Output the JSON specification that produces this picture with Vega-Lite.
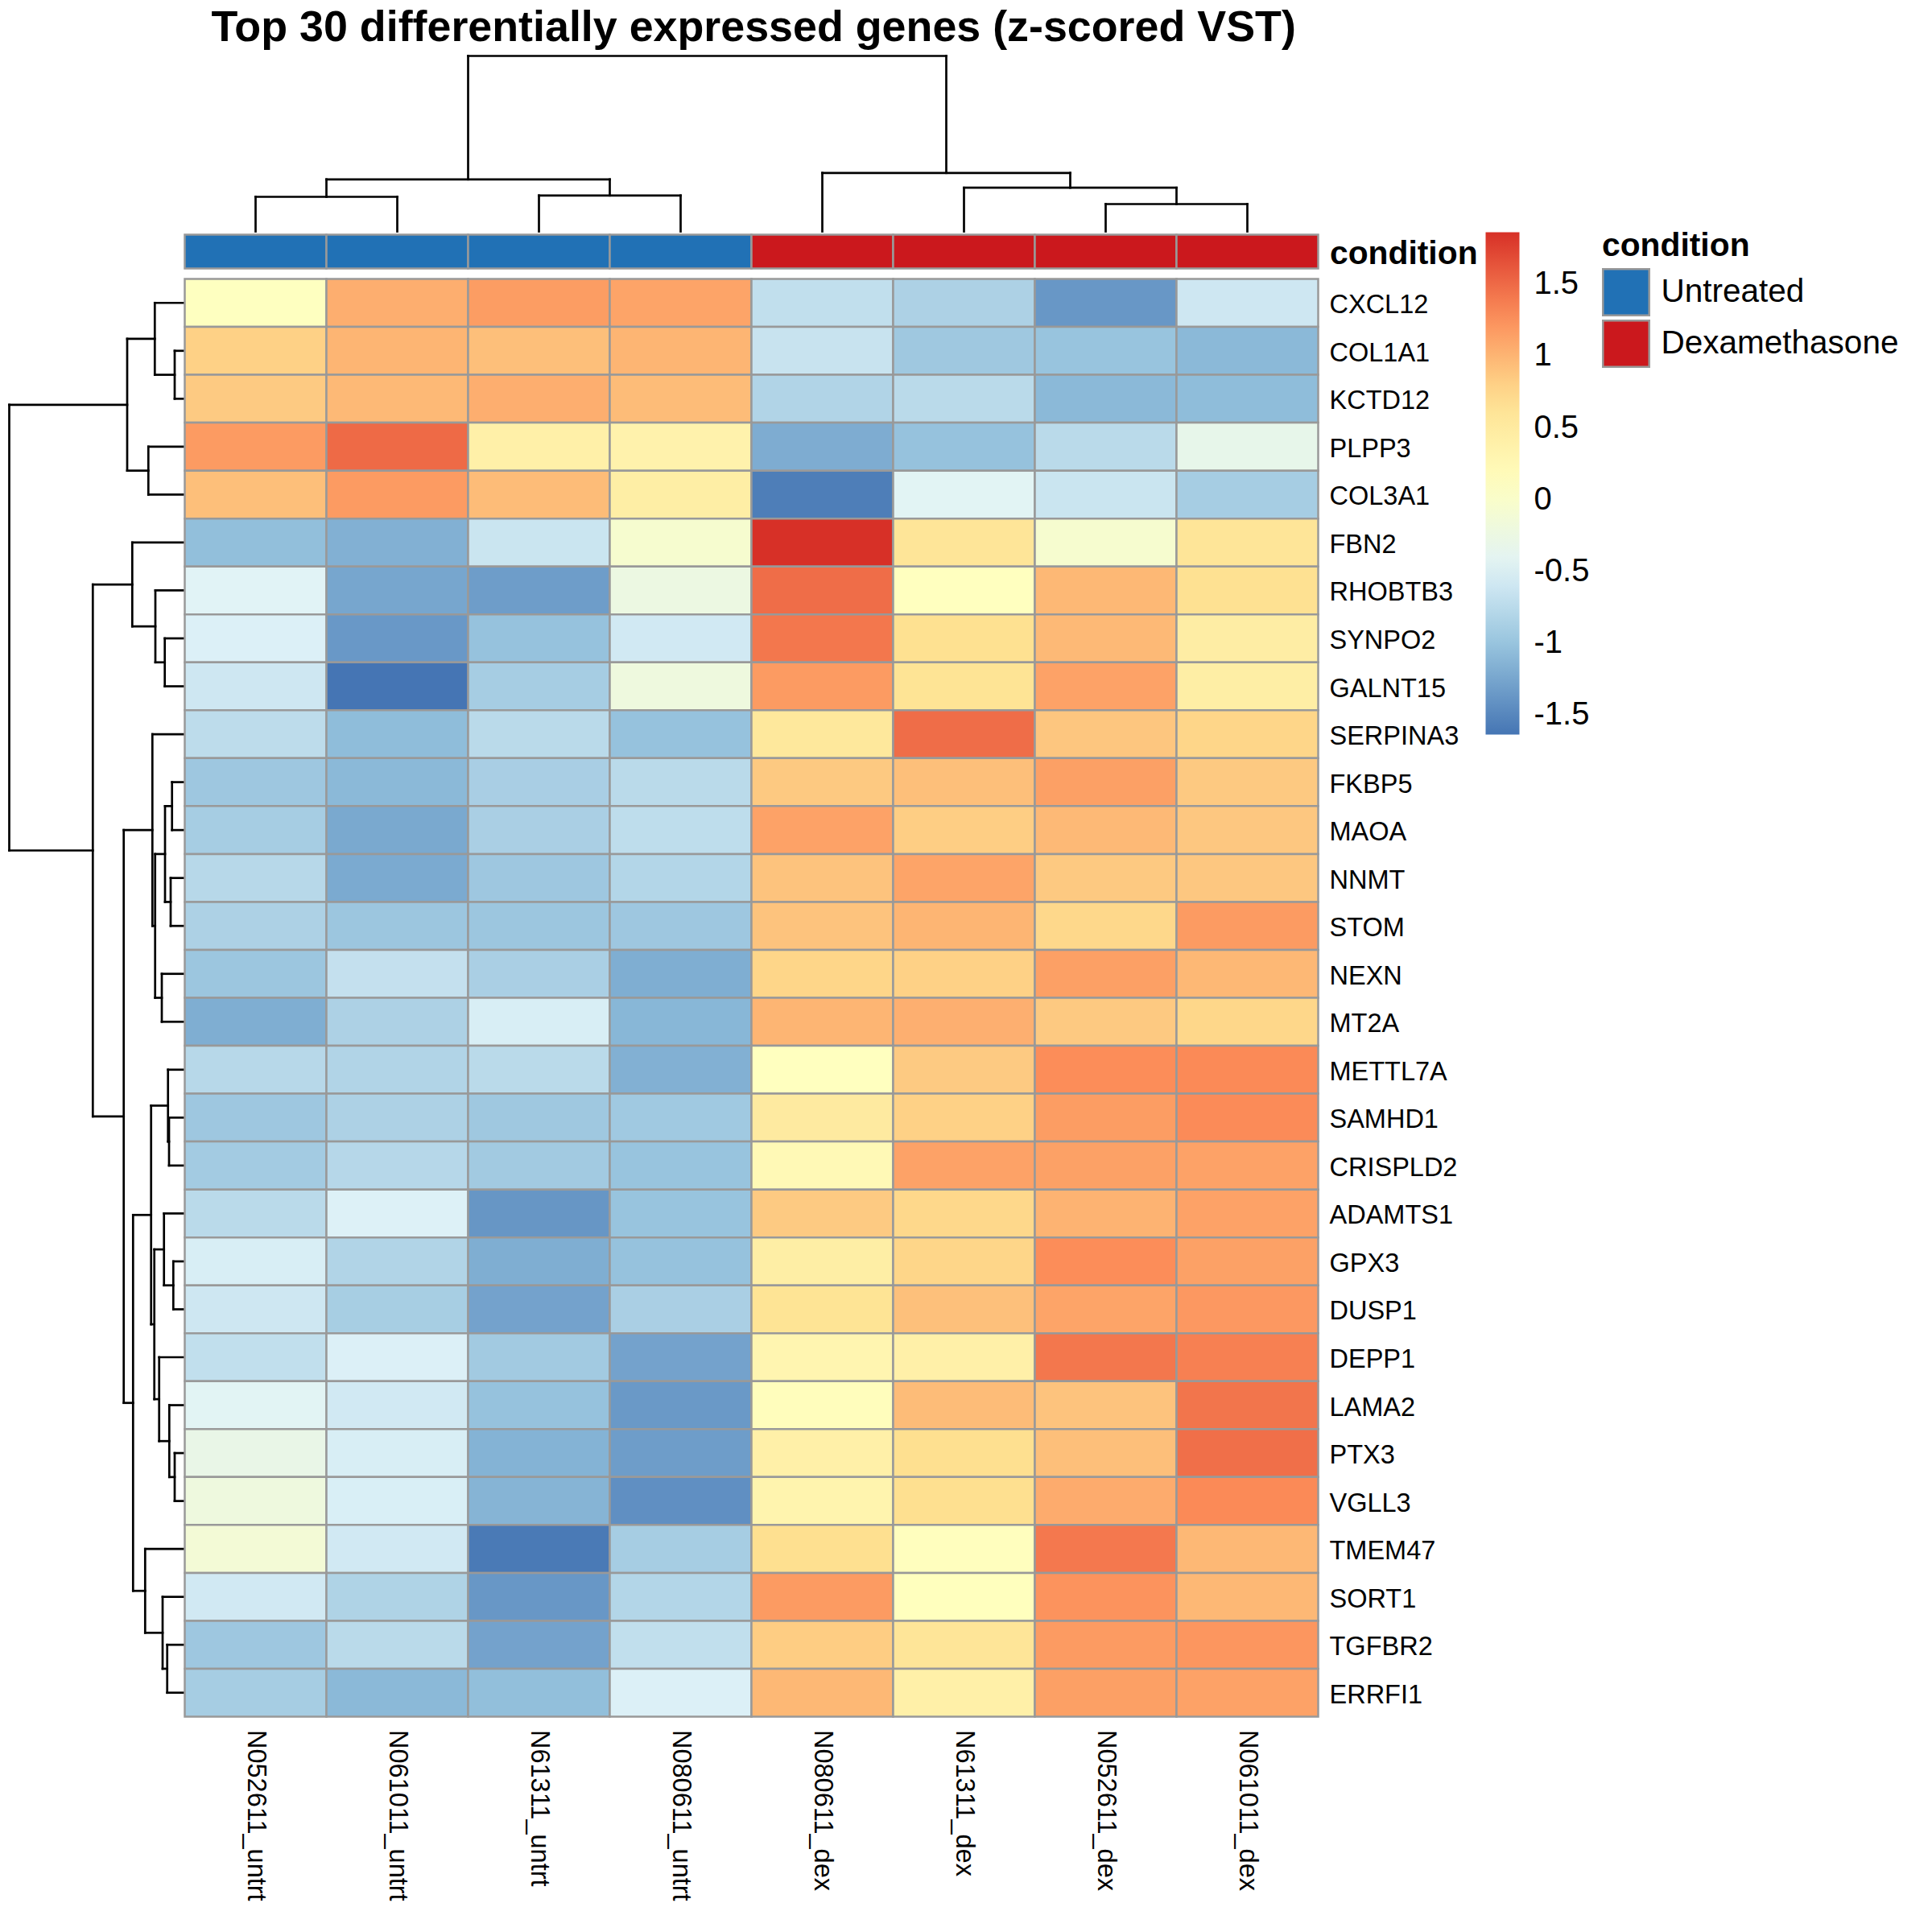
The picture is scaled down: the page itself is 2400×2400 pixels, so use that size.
{
"$schema": "https://vega.github.io/schema/vega-lite/v6.json",
"background": "white",
"autosize": {"type": "pad"},
"padding": {"left": 9.5, "top": 7.5, "right": 10, "bottom": 10},
"title": {"text": "Top 30 differentially expressed genes (z-scored VST)", "fontSize": 53.8, "fontWeight": "bold", "anchor": "start", "frame": "group", "dx": 251, "offset": 6, "color": "black"},
"config": {"font": "Liberation Sans", "view": {"stroke": null}},
"columns": 2,
"bounds": "flush",
"spacing": {"row": 4, "column": 0},
"datasets": {
"cells": [
{"gene":"CXCL12","sample":"N052611_untrt","z":0.10},{"gene":"CXCL12","sample":"N061011_untrt","z":1.05},{"gene":"CXCL12","sample":"N61311_untrt","z":1.17},{"gene":"CXCL12","sample":"N080611_untrt","z":1.12},{"gene":"CXCL12","sample":"N080611_dex","z":-0.70},{"gene":"CXCL12","sample":"N61311_dex","z":-0.85},{"gene":"CXCL12","sample":"N052611_dex","z":-1.37},{"gene":"CXCL12","sample":"N061011_dex","z":-0.60},
{"gene":"COL1A1","sample":"N052611_untrt","z":0.80},{"gene":"COL1A1","sample":"N061011_untrt","z":1.00},{"gene":"COL1A1","sample":"N61311_untrt","z":0.93},{"gene":"COL1A1","sample":"N080611_untrt","z":1.00},{"gene":"COL1A1","sample":"N080611_dex","z":-0.65},{"gene":"COL1A1","sample":"N61311_dex","z":-0.95},{"gene":"COL1A1","sample":"N052611_dex","z":-1.00},{"gene":"COL1A1","sample":"N061011_dex","z":-1.10},
{"gene":"KCTD12","sample":"N052611_untrt","z":0.85},{"gene":"KCTD12","sample":"N061011_untrt","z":0.97},{"gene":"KCTD12","sample":"N61311_untrt","z":1.05},{"gene":"KCTD12","sample":"N080611_untrt","z":0.95},{"gene":"KCTD12","sample":"N080611_dex","z":-0.82},{"gene":"KCTD12","sample":"N61311_dex","z":-0.75},{"gene":"KCTD12","sample":"N052611_dex","z":-1.10},{"gene":"KCTD12","sample":"N061011_dex","z":-1.07},
{"gene":"PLPP3","sample":"N052611_untrt","z":1.18},{"gene":"PLPP3","sample":"N061011_untrt","z":1.50},{"gene":"PLPP3","sample":"N61311_untrt","z":0.40},{"gene":"PLPP3","sample":"N080611_untrt","z":0.35},{"gene":"PLPP3","sample":"N080611_dex","z":-1.20},{"gene":"PLPP3","sample":"N61311_dex","z":-1.02},{"gene":"PLPP3","sample":"N052611_dex","z":-0.75},{"gene":"PLPP3","sample":"N061011_dex","z":-0.33},
{"gene":"COL3A1","sample":"N052611_untrt","z":0.93},{"gene":"COL3A1","sample":"N061011_untrt","z":1.18},{"gene":"COL3A1","sample":"N61311_untrt","z":0.95},{"gene":"COL3A1","sample":"N080611_untrt","z":0.43},{"gene":"COL3A1","sample":"N080611_dex","z":-1.57},{"gene":"COL3A1","sample":"N61311_dex","z":-0.43},{"gene":"COL3A1","sample":"N052611_dex","z":-0.63},{"gene":"COL3A1","sample":"N061011_dex","z":-0.90},
{"gene":"FBN2","sample":"N052611_untrt","z":-1.05},{"gene":"FBN2","sample":"N061011_untrt","z":-1.17},{"gene":"FBN2","sample":"N61311_untrt","z":-0.63},{"gene":"FBN2","sample":"N080611_untrt","z":-0.05},{"gene":"FBN2","sample":"N080611_dex","z":1.863},{"gene":"FBN2","sample":"N61311_dex","z":0.60},{"gene":"FBN2","sample":"N052611_dex","z":-0.05},{"gene":"FBN2","sample":"N061011_dex","z":0.60},
{"gene":"RHOBTB3","sample":"N052611_untrt","z":-0.45},{"gene":"RHOBTB3","sample":"N061011_untrt","z":-1.25},{"gene":"RHOBTB3","sample":"N61311_untrt","z":-1.32},{"gene":"RHOBTB3","sample":"N080611_untrt","z":-0.25},{"gene":"RHOBTB3","sample":"N080611_dex","z":1.48},{"gene":"RHOBTB3","sample":"N61311_dex","z":0.11},{"gene":"RHOBTB3","sample":"N052611_dex","z":0.98},{"gene":"RHOBTB3","sample":"N061011_dex","z":0.67},
{"gene":"SYNPO2","sample":"N052611_untrt","z":-0.50},{"gene":"SYNPO2","sample":"N061011_untrt","z":-1.36},{"gene":"SYNPO2","sample":"N61311_untrt","z":-1.02},{"gene":"SYNPO2","sample":"N080611_untrt","z":-0.58},{"gene":"SYNPO2","sample":"N080611_dex","z":1.42},{"gene":"SYNPO2","sample":"N61311_dex","z":0.68},{"gene":"SYNPO2","sample":"N052611_dex","z":0.97},{"gene":"SYNPO2","sample":"N061011_dex","z":0.45},
{"gene":"GALNT15","sample":"N052611_untrt","z":-0.60},{"gene":"GALNT15","sample":"N061011_untrt","z":-1.637},{"gene":"GALNT15","sample":"N61311_untrt","z":-0.90},{"gene":"GALNT15","sample":"N080611_untrt","z":-0.20},{"gene":"GALNT15","sample":"N080611_dex","z":1.18},{"gene":"GALNT15","sample":"N61311_dex","z":0.63},{"gene":"GALNT15","sample":"N052611_dex","z":1.13},{"gene":"GALNT15","sample":"N061011_dex","z":0.43},
{"gene":"SERPINA3","sample":"N052611_untrt","z":-0.73},{"gene":"SERPINA3","sample":"N061011_untrt","z":-1.07},{"gene":"SERPINA3","sample":"N61311_untrt","z":-0.75},{"gene":"SERPINA3","sample":"N080611_untrt","z":-1.02},{"gene":"SERPINA3","sample":"N080611_dex","z":0.55},{"gene":"SERPINA3","sample":"N61311_dex","z":1.48},{"gene":"SERPINA3","sample":"N052611_dex","z":0.88},{"gene":"SERPINA3","sample":"N061011_dex","z":0.77},
{"gene":"FKBP5","sample":"N052611_untrt","z":-0.96},{"gene":"FKBP5","sample":"N061011_untrt","z":-1.10},{"gene":"FKBP5","sample":"N61311_untrt","z":-0.88},{"gene":"FKBP5","sample":"N080611_untrt","z":-0.75},{"gene":"FKBP5","sample":"N080611_dex","z":0.86},{"gene":"FKBP5","sample":"N61311_dex","z":0.93},{"gene":"FKBP5","sample":"N052611_dex","z":1.15},{"gene":"FKBP5","sample":"N061011_dex","z":0.86},
{"gene":"MAOA","sample":"N052611_untrt","z":-0.90},{"gene":"MAOA","sample":"N061011_untrt","z":-1.23},{"gene":"MAOA","sample":"N61311_untrt","z":-0.87},{"gene":"MAOA","sample":"N080611_untrt","z":-0.72},{"gene":"MAOA","sample":"N080611_dex","z":1.13},{"gene":"MAOA","sample":"N61311_dex","z":0.82},{"gene":"MAOA","sample":"N052611_dex","z":0.97},{"gene":"MAOA","sample":"N061011_dex","z":0.87},
{"gene":"NNMT","sample":"N052611_untrt","z":-0.77},{"gene":"NNMT","sample":"N061011_untrt","z":-1.22},{"gene":"NNMT","sample":"N61311_untrt","z":-0.96},{"gene":"NNMT","sample":"N080611_untrt","z":-0.80},{"gene":"NNMT","sample":"N080611_dex","z":0.90},{"gene":"NNMT","sample":"N61311_dex","z":1.12},{"gene":"NNMT","sample":"N052611_dex","z":0.86},{"gene":"NNMT","sample":"N061011_dex","z":0.87},
{"gene":"STOM","sample":"N052611_untrt","z":-0.85},{"gene":"STOM","sample":"N061011_untrt","z":-0.97},{"gene":"STOM","sample":"N61311_untrt","z":-0.97},{"gene":"STOM","sample":"N080611_untrt","z":-0.96},{"gene":"STOM","sample":"N080611_dex","z":0.90},{"gene":"STOM","sample":"N61311_dex","z":1.00},{"gene":"STOM","sample":"N052611_dex","z":0.75},{"gene":"STOM","sample":"N061011_dex","z":1.18},
{"gene":"NEXN","sample":"N052611_untrt","z":-0.97},{"gene":"NEXN","sample":"N061011_untrt","z":-0.68},{"gene":"NEXN","sample":"N61311_untrt","z":-0.87},{"gene":"NEXN","sample":"N080611_untrt","z":-1.19},{"gene":"NEXN","sample":"N080611_dex","z":0.77},{"gene":"NEXN","sample":"N61311_dex","z":0.80},{"gene":"NEXN","sample":"N052611_dex","z":1.15},{"gene":"NEXN","sample":"N061011_dex","z":0.98},
{"gene":"MT2A","sample":"N052611_untrt","z":-1.19},{"gene":"MT2A","sample":"N061011_untrt","z":-0.85},{"gene":"MT2A","sample":"N61311_untrt","z":-0.53},{"gene":"MT2A","sample":"N080611_untrt","z":-1.12},{"gene":"MT2A","sample":"N080611_dex","z":1.00},{"gene":"MT2A","sample":"N61311_dex","z":1.04},{"gene":"MT2A","sample":"N052611_dex","z":0.86},{"gene":"MT2A","sample":"N061011_dex","z":0.76},
{"gene":"METTL7A","sample":"N052611_untrt","z":-0.77},{"gene":"METTL7A","sample":"N061011_untrt","z":-0.82},{"gene":"METTL7A","sample":"N61311_untrt","z":-0.75},{"gene":"METTL7A","sample":"N080611_untrt","z":-1.17},{"gene":"METTL7A","sample":"N080611_dex","z":0.11},{"gene":"METTL7A","sample":"N61311_dex","z":0.85},{"gene":"METTL7A","sample":"N052611_dex","z":1.28},{"gene":"METTL7A","sample":"N061011_dex","z":1.30},
{"gene":"SAMHD1","sample":"N052611_untrt","z":-0.96},{"gene":"SAMHD1","sample":"N061011_untrt","z":-0.85},{"gene":"SAMHD1","sample":"N61311_untrt","z":-0.95},{"gene":"SAMHD1","sample":"N080611_untrt","z":-0.94},{"gene":"SAMHD1","sample":"N080611_dex","z":0.50},{"gene":"SAMHD1","sample":"N61311_dex","z":0.80},{"gene":"SAMHD1","sample":"N052611_dex","z":1.17},{"gene":"SAMHD1","sample":"N061011_dex","z":1.29},
{"gene":"CRISPLD2","sample":"N052611_untrt","z":-0.92},{"gene":"CRISPLD2","sample":"N061011_untrt","z":-0.78},{"gene":"CRISPLD2","sample":"N61311_untrt","z":-0.93},{"gene":"CRISPLD2","sample":"N080611_untrt","z":-1.00},{"gene":"CRISPLD2","sample":"N080611_dex","z":0.22},{"gene":"CRISPLD2","sample":"N61311_dex","z":1.13},{"gene":"CRISPLD2","sample":"N052611_dex","z":1.14},{"gene":"CRISPLD2","sample":"N061011_dex","z":1.13},
{"gene":"ADAMTS1","sample":"N052611_untrt","z":-0.75},{"gene":"ADAMTS1","sample":"N061011_untrt","z":-0.49},{"gene":"ADAMTS1","sample":"N61311_untrt","z":-1.38},{"gene":"ADAMTS1","sample":"N080611_untrt","z":-1.00},{"gene":"ADAMTS1","sample":"N080611_dex","z":0.85},{"gene":"ADAMTS1","sample":"N61311_dex","z":0.75},{"gene":"ADAMTS1","sample":"N052611_dex","z":1.01},{"gene":"ADAMTS1","sample":"N061011_dex","z":1.13},
{"gene":"GPX3","sample":"N052611_untrt","z":-0.53},{"gene":"GPX3","sample":"N061011_untrt","z":-0.82},{"gene":"GPX3","sample":"N61311_untrt","z":-1.19},{"gene":"GPX3","sample":"N080611_untrt","z":-1.02},{"gene":"GPX3","sample":"N080611_dex","z":0.43},{"gene":"GPX3","sample":"N61311_dex","z":0.77},{"gene":"GPX3","sample":"N052611_dex","z":1.28},{"gene":"GPX3","sample":"N061011_dex","z":1.14},
{"gene":"DUSP1","sample":"N052611_untrt","z":-0.60},{"gene":"DUSP1","sample":"N061011_untrt","z":-0.89},{"gene":"DUSP1","sample":"N61311_untrt","z":-1.28},{"gene":"DUSP1","sample":"N080611_untrt","z":-0.87},{"gene":"DUSP1","sample":"N080611_dex","z":0.63},{"gene":"DUSP1","sample":"N61311_dex","z":0.92},{"gene":"DUSP1","sample":"N052611_dex","z":1.12},{"gene":"DUSP1","sample":"N061011_dex","z":1.20},
{"gene":"DEPP1","sample":"N052611_untrt","z":-0.70},{"gene":"DEPP1","sample":"N061011_untrt","z":-0.50},{"gene":"DEPP1","sample":"N61311_untrt","z":-0.93},{"gene":"DEPP1","sample":"N080611_untrt","z":-1.28},{"gene":"DEPP1","sample":"N080611_dex","z":0.30},{"gene":"DEPP1","sample":"N61311_dex","z":0.40},{"gene":"DEPP1","sample":"N052611_dex","z":1.42},{"gene":"DEPP1","sample":"N061011_dex","z":1.36},
{"gene":"LAMA2","sample":"N052611_untrt","z":-0.43},{"gene":"LAMA2","sample":"N061011_untrt","z":-0.58},{"gene":"LAMA2","sample":"N61311_untrt","z":-1.02},{"gene":"LAMA2","sample":"N080611_untrt","z":-1.35},{"gene":"LAMA2","sample":"N080611_dex","z":0.15},{"gene":"LAMA2","sample":"N61311_dex","z":0.95},{"gene":"LAMA2","sample":"N052611_dex","z":0.90},{"gene":"LAMA2","sample":"N061011_dex","z":1.43},
{"gene":"PTX3","sample":"N052611_untrt","z":-0.30},{"gene":"PTX3","sample":"N061011_untrt","z":-0.53},{"gene":"PTX3","sample":"N61311_untrt","z":-1.15},{"gene":"PTX3","sample":"N080611_untrt","z":-1.32},{"gene":"PTX3","sample":"N080611_dex","z":0.40},{"gene":"PTX3","sample":"N61311_dex","z":0.70},{"gene":"PTX3","sample":"N052611_dex","z":0.93},{"gene":"PTX3","sample":"N061011_dex","z":1.47},
{"gene":"VGLL3","sample":"N052611_untrt","z":-0.20},{"gene":"VGLL3","sample":"N061011_untrt","z":-0.52},{"gene":"VGLL3","sample":"N61311_untrt","z":-1.14},{"gene":"VGLL3","sample":"N080611_untrt","z":-1.43},{"gene":"VGLL3","sample":"N080611_dex","z":0.32},{"gene":"VGLL3","sample":"N61311_dex","z":0.70},{"gene":"VGLL3","sample":"N052611_dex","z":1.07},{"gene":"VGLL3","sample":"N061011_dex","z":1.30},
{"gene":"TMEM47","sample":"N052611_untrt","z":-0.12},{"gene":"TMEM47","sample":"N061011_untrt","z":-0.58},{"gene":"TMEM47","sample":"N61311_untrt","z":-1.60},{"gene":"TMEM47","sample":"N080611_untrt","z":-0.90},{"gene":"TMEM47","sample":"N080611_dex","z":0.70},{"gene":"TMEM47","sample":"N61311_dex","z":0.13},{"gene":"TMEM47","sample":"N052611_dex","z":1.41},{"gene":"TMEM47","sample":"N061011_dex","z":0.98},
{"gene":"SORT1","sample":"N052611_untrt","z":-0.58},{"gene":"SORT1","sample":"N061011_untrt","z":-0.83},{"gene":"SORT1","sample":"N61311_untrt","z":-1.37},{"gene":"SORT1","sample":"N080611_untrt","z":-0.80},{"gene":"SORT1","sample":"N080611_dex","z":1.18},{"gene":"SORT1","sample":"N61311_dex","z":0.12},{"gene":"SORT1","sample":"N052611_dex","z":1.24},{"gene":"SORT1","sample":"N061011_dex","z":0.98},
{"gene":"TGFBR2","sample":"N052611_untrt","z":-0.96},{"gene":"TGFBR2","sample":"N061011_untrt","z":-0.75},{"gene":"TGFBR2","sample":"N61311_untrt","z":-1.28},{"gene":"TGFBR2","sample":"N080611_untrt","z":-0.70},{"gene":"TGFBR2","sample":"N080611_dex","z":0.83},{"gene":"TGFBR2","sample":"N61311_dex","z":0.60},{"gene":"TGFBR2","sample":"N052611_dex","z":1.18},{"gene":"TGFBR2","sample":"N061011_dex","z":1.22},
{"gene":"ERRFI1","sample":"N052611_untrt","z":-0.90},{"gene":"ERRFI1","sample":"N061011_untrt","z":-1.10},{"gene":"ERRFI1","sample":"N61311_untrt","z":-1.05},{"gene":"ERRFI1","sample":"N080611_untrt","z":-0.50},{"gene":"ERRFI1","sample":"N080611_dex","z":0.98},{"gene":"ERRFI1","sample":"N61311_dex","z":0.40},{"gene":"ERRFI1","sample":"N052611_dex","z":1.15},{"gene":"ERRFI1","sample":"N061011_dex","z":1.13}
],
"ann": [
{"sample":"N052611_untrt","track":"condition","condition":"Untreated"},
{"sample":"N061011_untrt","track":"condition","condition":"Untreated"},
{"sample":"N61311_untrt","track":"condition","condition":"Untreated"},
{"sample":"N080611_untrt","track":"condition","condition":"Untreated"},
{"sample":"N080611_dex","track":"condition","condition":"Dexamethasone"},
{"sample":"N61311_dex","track":"condition","condition":"Dexamethasone"},
{"sample":"N052611_dex","track":"condition","condition":"Dexamethasone"},
{"sample":"N061011_dex","track":"condition","condition":"Dexamethasone"}
],
"coltree": [
{"p1":1,"p2":1,"h1":0,"h2":4.3},{"p1":2,"p2":2,"h1":0,"h2":4.3},{"p1":1,"p2":2,"h1":4.3,"h2":4.3},
{"p1":3,"p2":3,"h1":0,"h2":4.47},{"p1":4,"p2":4,"h1":0,"h2":4.47},{"p1":3,"p2":4,"h1":4.47,"h2":4.47},
{"p1":1.5,"p2":1.5,"h1":4.3,"h2":6.47},{"p1":3.5,"p2":3.5,"h1":4.47,"h2":6.47},{"p1":1.5,"p2":3.5,"h1":6.47,"h2":6.47},
{"p1":7,"p2":7,"h1":0,"h2":3.4},{"p1":8,"p2":8,"h1":0,"h2":3.4},{"p1":7,"p2":8,"h1":3.4,"h2":3.4},
{"p1":6,"p2":6,"h1":0,"h2":5.43},{"p1":7.5,"p2":7.5,"h1":3.4,"h2":5.43},{"p1":6,"p2":7.5,"h1":5.43,"h2":5.43},
{"p1":5,"p2":5,"h1":0,"h2":7.27},{"p1":6.75,"p2":6.75,"h1":5.43,"h2":7.27},{"p1":5,"p2":6.75,"h1":7.27,"h2":7.27},
{"p1":2.5,"p2":2.5,"h1":6.47,"h2":21.8},{"p1":5.875,"p2":5.875,"h1":7.27,"h2":21.8},{"p1":2.5,"p2":5.875,"h1":21.8,"h2":21.8}
],
"rowtree": [
{"h1":0,"h2":1.2,"p1":2,"p2":2},{"h1":0,"h2":1.2,"p1":3,"p2":3},{"h1":1.2,"h2":1.2,"p1":2,"p2":3},
{"h1":0,"h2":3.67,"p1":1,"p2":1},{"h1":1.2,"h2":3.67,"p1":2.5,"p2":2.5},{"h1":3.67,"h2":3.67,"p1":1,"p2":2.5},
{"h1":0,"h2":4.47,"p1":4,"p2":4},{"h1":0,"h2":4.47,"p1":5,"p2":5},{"h1":4.47,"h2":4.47,"p1":4,"p2":5},
{"h1":3.67,"h2":7.1,"p1":1.75,"p2":1.75},{"h1":4.47,"h2":7.1,"p1":4.5,"p2":4.5},{"h1":7.1,"h2":7.1,"p1":1.75,"p2":4.5},
{"h1":0,"h2":2.43,"p1":8,"p2":8},{"h1":0,"h2":2.43,"p1":9,"p2":9},{"h1":2.43,"h2":2.43,"p1":8,"p2":9},
{"h1":0,"h2":3.6,"p1":7,"p2":7},{"h1":2.43,"h2":3.6,"p1":8.5,"p2":8.5},{"h1":3.6,"h2":3.6,"p1":7,"p2":8.5},
{"h1":0,"h2":6.47,"p1":6,"p2":6},{"h1":3.6,"h2":6.47,"p1":7.75,"p2":7.75},{"h1":6.47,"h2":6.47,"p1":6,"p2":7.75},
{"h1":0,"h2":1.53,"p1":11,"p2":11},{"h1":0,"h2":1.53,"p1":12,"p2":12},{"h1":1.53,"h2":1.53,"p1":11,"p2":12},
{"h1":0,"h2":1.7,"p1":13,"p2":13},{"h1":0,"h2":1.7,"p1":14,"p2":14},{"h1":1.7,"h2":1.7,"p1":13,"p2":14},
{"h1":1.53,"h2":2.4,"p1":11.5,"p2":11.5},{"h1":1.7,"h2":2.4,"p1":13.5,"p2":13.5},{"h1":2.4,"h2":2.4,"p1":11.5,"p2":13.5},
{"h1":0,"h2":2.8,"p1":15,"p2":15},{"h1":0,"h2":2.8,"p1":16,"p2":16},{"h1":2.8,"h2":2.8,"p1":15,"p2":16},
{"h1":2.4,"h2":3.63,"p1":12.5,"p2":12.5},{"h1":2.8,"h2":3.63,"p1":15.5,"p2":15.5},{"h1":3.63,"h2":3.63,"p1":12.5,"p2":15.5},
{"h1":0,"h2":3.97,"p1":10,"p2":10},{"h1":3.63,"h2":3.97,"p1":14,"p2":14},{"h1":3.97,"h2":3.97,"p1":10,"p2":14},
{"h1":0,"h2":1.9,"p1":18,"p2":18},{"h1":0,"h2":1.9,"p1":19,"p2":19},{"h1":1.9,"h2":1.9,"p1":18,"p2":19},
{"h1":0,"h2":2.03,"p1":17,"p2":17},{"h1":1.9,"h2":2.03,"p1":18.5,"p2":18.5},{"h1":2.03,"h2":2.03,"p1":17,"p2":18.5},
{"h1":0,"h2":1.37,"p1":21,"p2":21},{"h1":0,"h2":1.37,"p1":22,"p2":22},{"h1":1.37,"h2":1.37,"p1":21,"p2":22},
{"h1":0,"h2":2.53,"p1":20,"p2":20},{"h1":1.37,"h2":2.53,"p1":21.5,"p2":21.5},{"h1":2.53,"h2":2.53,"p1":20,"p2":21.5},
{"h1":0,"h2":1.2,"p1":25,"p2":25},{"h1":0,"h2":1.2,"p1":26,"p2":26},{"h1":1.2,"h2":1.2,"p1":25,"p2":26},
{"h1":0,"h2":1.87,"p1":24,"p2":24},{"h1":1.2,"h2":1.87,"p1":25.5,"p2":25.5},{"h1":1.87,"h2":1.87,"p1":24,"p2":25.5},
{"h1":0,"h2":3.13,"p1":23,"p2":23},{"h1":1.87,"h2":3.13,"p1":24.75,"p2":24.75},{"h1":3.13,"h2":3.13,"p1":23,"p2":24.75},
{"h1":2.53,"h2":3.73,"p1":20.75,"p2":20.75},{"h1":3.13,"h2":3.73,"p1":23.875,"p2":23.875},{"h1":3.73,"h2":3.73,"p1":20.75,"p2":23.875},
{"h1":2.03,"h2":4.13,"p1":17.75,"p2":17.75},{"h1":3.73,"h2":4.13,"p1":22.3125,"p2":22.3125},{"h1":4.13,"h2":4.13,"p1":17.75,"p2":22.3125},
{"h1":0,"h2":2.13,"p1":29,"p2":29},{"h1":0,"h2":2.13,"p1":30,"p2":30},{"h1":2.13,"h2":2.13,"p1":29,"p2":30},
{"h1":0,"h2":2.7,"p1":28,"p2":28},{"h1":2.13,"h2":2.7,"p1":29.5,"p2":29.5},{"h1":2.7,"h2":2.7,"p1":28,"p2":29.5},
{"h1":0,"h2":4.87,"p1":27,"p2":27},{"h1":2.7,"h2":4.87,"p1":28.75,"p2":28.75},{"h1":4.87,"h2":4.87,"p1":27,"p2":28.75},
{"h1":4.13,"h2":6.37,"p1":20.03125,"p2":20.03125},{"h1":4.87,"h2":6.37,"p1":27.875,"p2":27.875},{"h1":6.37,"h2":6.37,"p1":20.03125,"p2":27.875},
{"h1":3.97,"h2":7.53,"p1":12,"p2":12},{"h1":6.37,"h2":7.53,"p1":23.953125,"p2":23.953125},{"h1":7.53,"h2":7.53,"p1":12,"p2":23.953125},
{"h1":6.47,"h2":11.37,"p1":6.875,"p2":6.875},{"h1":7.53,"h2":11.37,"p1":17.9765625,"p2":17.9765625},{"h1":11.37,"h2":11.37,"p1":6.875,"p2":17.9765625},
{"h1":7.1,"h2":21.75,"p1":3.125,"p2":3.125},{"h1":11.37,"h2":21.75,"p1":12.42578125,"p2":12.42578125},{"h1":21.75,"h2":21.75,"p1":3.125,"p2":12.42578125}
]
},
"concat": [
{"width": 217.5, "height": 218, "data": {"values": []}, "mark": "point"},
{"width": 1408, "height": 218, "data": {"name": "coltree"},
 "mark": {"type": "rule", "color": "black", "strokeWidth": 2.7, "strokeCap": "square"},
 "encoding": {
  "x": {"field": "p1", "type": "quantitative", "scale": {"domain": [0.5, 8.5], "nice": false, "zero": false}, "axis": null},
  "x2": {"field": "p2"},
  "y": {"field": "h1", "type": "quantitative", "scale": {"domain": [0, 21.8], "nice": false}, "axis": null},
  "y2": {"field": "h2"}
 }},
{"width": 217.5, "height": 51, "data": {"values": []}, "mark": "point"},
{"width": 1408, "height": 51, "data": {"name": "ann"},
 "mark": {"type": "rect", "stroke": "#999999", "strokeWidth": 2.5},
 "encoding": {
  "x": {"field": "sample", "type": "nominal", "sort": ["N052611_untrt","N061011_untrt","N61311_untrt","N080611_untrt","N080611_dex","N61311_dex","N052611_dex","N061011_dex"], "scale": {"paddingInner": 0, "paddingOuter": 0}, "axis": null},
  "y": {"field": "track", "type": "nominal", "scale": {"paddingInner": 0, "paddingOuter": 0.10714, "align": 0}, "axis": {"orient": "right", "title": null, "domain": false, "ticks": false, "tickSize": 0, "labelPadding": 14, "labelOffset": 3, "labelFontSize": 40.8, "labelFontWeight": "bold", "labelColor": "black", "labelLimit": 500}},
  "fill": {"field": "condition", "type": "nominal", "scale": {"domain": ["Untreated", "Dexamethasone"], "range": ["#2171B5", "#CB181D"]},
   "legend": {"orient": "none", "legendX": 1978.5, "legendY": 216.6, "direction": "vertical", "title": "condition", "titleFontSize": 40.8, "titleFontWeight": "bold", "titleColor": "black", "titlePadding": 6, "titleLimit": 600, "labelFontSize": 40.5, "labelColor": "black", "labelOffset": 13.5, "labelLimit": 600, "symbolType": "square", "symbolSize": 3306, "symbolStrokeColor": "#999999", "symbolStrokeWidth": 2.5, "symbolOpacity": 1, "rowPadding": -9}}
 }},
{"width": 217.5, "height": 1786, "data": {"name": "rowtree"},
 "mark": {"type": "rule", "color": "black", "strokeWidth": 2.7, "strokeCap": "square"},
 "encoding": {
  "x": {"field": "h1", "type": "quantitative", "scale": {"domain": [0, 21.75], "nice": false, "reverse": true}, "axis": null},
  "x2": {"field": "h2"},
  "y": {"field": "p1", "type": "quantitative", "scale": {"domain": [0.5, 30.5], "nice": false, "zero": false, "reverse": true}, "axis": null},
  "y2": {"field": "p2"}
 }},
{"width": 1408, "height": 1786, "data": {"name": "cells"},
 "mark": {"type": "rect", "stroke": "#999999", "strokeWidth": 2.5},
 "encoding": {
  "x": {"field": "sample", "type": "nominal", "sort": ["N052611_untrt","N061011_untrt","N61311_untrt","N080611_untrt","N080611_dex","N61311_dex","N052611_dex","N061011_dex"], "scale": {"paddingInner": 0, "paddingOuter": 0},
   "axis": {"orient": "bottom", "title": null, "labelAngle": 90, "domain": false, "ticks": false, "tickSize": 0, "labelPadding": 16, "labelFontSize": 32.5, "labelColor": "black", "labelLimit": 600}},
  "y": {"field": "gene", "type": "nominal", "sort": ["CXCL12","COL1A1","KCTD12","PLPP3","COL3A1","FBN2","RHOBTB3","SYNPO2","GALNT15","SERPINA3","FKBP5","MAOA","NNMT","STOM","NEXN","MT2A","METTL7A","SAMHD1","CRISPLD2","ADAMTS1","GPX3","DUSP1","DEPP1","LAMA2","PTX3","VGLL3","TMEM47","SORT1","TGFBR2","ERRFI1"], "scale": {"paddingInner": 0, "paddingOuter": 0},
   "axis": {"orient": "right", "title": null, "domain": false, "ticks": false, "tickSize": 0, "labelPadding": 13.5, "labelOffset": 3, "labelFontSize": 32.5, "labelColor": "black", "labelLimit": 600}},
  "color": {"field": "z", "type": "quantitative",
   "scale": {"domain": [-1.637, -1.054, -0.47, 0.113, 0.697, 1.28, 1.863], "range": ["#4575B4", "#91BFDB", "#E0F3F8", "#FFFFBF", "#FEE090", "#FC8D59", "#D73027"], "interpolate": "rgb"},
   "legend": {"orient": "none", "legendX": 1834, "legendY": 219, "direction": "vertical", "title": null, "gradientLength": 624, "gradientThickness": 42, "gradientStrokeWidth": 0, "values": [-1.5, -1, -0.5, 0, 0.5, 1, 1.5], "labelExpr": "toString(datum.value)", "labelFontSize": 40, "labelOffset": 18, "labelColor": "black", "labelOverlap": false}}
 }}
]
}
